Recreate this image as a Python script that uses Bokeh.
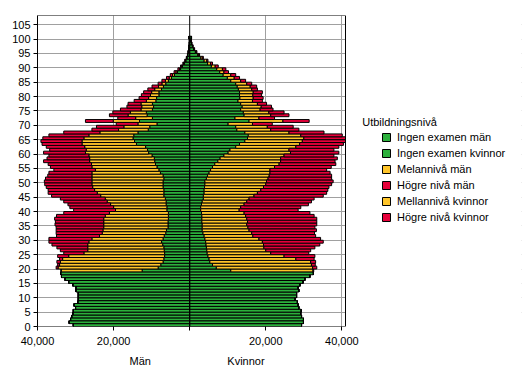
from bokeh.plotting import figure
from bokeh.models import (ColumnDataSource, FixedTicker, LinearAxis, Legend,
                          LegendItem, Span, Range1d, BoxAnnotation, Label)
from bokeh.embed import file_html
from bokeh.resources import INLINE

# ---------------- data ----------------
ages = list(range(0, 101))
age_ticks = list(range(0, 106, 5))
x_ticks = [-40000, -20000, 0, 20000, 40000]
x_tick_labels = ["40,000", "20,000", "", "20,000", "40,000"]
side_labels = ["Män", "Kvinnor"]
legend_title = "Utbildningsnivå"
series_names = ["Ingen examen män", "Ingen examen kvinnor", "Melannivå män",
                "Högre nivå män", "Mellannivå kvinnor", "Högre nivå kvinnor"]

men_ingen = [30600, 31700, 31300, 31000, 30700, 30600, 30000, 30400, 29400, 29300,
             29300, 29300, 29900, 29900, 30700, 31800, 32800, 33700, 33900,
             12500, 8300, 7600, 7000, 6800, 6600, 6600, 6700, 6800, 7100,
             7400, 7000, 6700, 6300, 6100, 5700, 5700, 5700, 5600, 5600,
             5600, 6000, 6000, 6200, 6200, 6400, 6800, 6800, 6800, 7000,
             7000, 7000, 6800, 7000, 7700, 8100, 8600, 9000, 9200, 9300,
             9900, 10800, 11100, 11600, 14000, 14500, 14900, 14700, 13600, 10900,
             10500, 8600, 13200, 9800, 11200, 11400, 9800, 9500, 9800, 8900,
             8700, 8100, 8100, 7400, 6900, 6300, 5600, 4800, 4000, 3200,
             2400, 1900, 1400, 1000, 700, 500, 350, 250, 170, 100, 70, 200]
men_mellan = [0] * 19 + [
             21300, 26300, 26600, 27000, 26600, 25200, 21200, 20100, 20000, 19700,
             19100, 18700, 17000, 16700, 16700, 16900, 16900, 16900, 17000, 16600,
             15500, 13500, 14000, 14600, 15500, 15800, 16600, 17500, 18200, 18500,
             18700, 18700, 18900, 18700, 18000, 16700, 17100, 16800, 17100, 17000,
             16600, 16600, 16100, 16000, 14300, 13800, 12900, 11800, 10000, 7800,
             6800, 5000, 6900, 4400, 5000, 4200, 3000, 3100, 3000, 2500,
             2100, 2200, 1900, 1800, 1300, 1000, 800, 600, 500, 400,
             300, 200, 200, 150, 100, 50, 50, 30, 20, 10, 10, 20]
men_hogre = [0] * 19 + [
             0, 500, 500, 900, 800, 2900, 5300, 7200, 8100, 9400,
             10500, 11300, 11300, 12100, 12300, 12500, 12800, 12700, 12900, 12800,
             12000, 11000, 11500, 11200, 11400, 11800, 12900, 12900, 12200, 12200,
             12400, 12500, 12200, 11600, 11300, 10900, 10900, 11400, 12100, 11200,
             10500, 11000, 9600, 10100, 10500, 10800, 10800, 10500, 9500, 7000,
             7200, 5700, 7300, 4700, 4900, 4600, 5400, 3900, 3400, 3200,
             2500, 2400, 2100, 1800, 1700, 1000, 900, 700, 600, 500,
             400, 300, 200, 150, 100, 50, 50, 20, 10, 10, 10, 20]

women_ingen = [29400, 29900, 29900, 29400, 29200, 29300, 28700, 28500, 28300, 27700,
               28100, 28100, 28700, 28500, 29000, 29800, 30300, 31600, 32500,
               10800, 7000, 6000, 5300, 5100, 4800, 4600, 4500, 4400, 4300,
               4200, 4000, 3800, 3500, 3300, 3300, 3300, 3200, 3200, 3200,
               3100, 2900, 2900, 3100, 3300, 3600, 3600, 3800, 3800, 3900,
               4000, 4000, 4400, 4700, 5100, 5500, 6000, 6600, 7400, 8000,
               9000, 10100, 10600, 12100, 13100, 14500, 15200, 15400, 14500, 12400,
               12100, 10100, 15600, 11900, 14300, 14100, 13400, 13800, 13400, 12700,
               13200, 13100, 13100, 12800, 12500, 12100, 10800, 9900, 8800, 7900,
               7100, 5700, 4700, 3800, 2900, 2100, 1500, 1000, 700, 450, 300, 400]
women_mellan = [0] * 19 + [
               21600, 25300, 26000, 26500, 22800, 20000, 16700, 15500, 15100, 15100,
               14900, 14200, 12800, 12800, 12300, 12000, 11700, 12000, 11800, 11500,
               11200, 10100, 10500, 11200, 11700, 12000, 13300, 14000, 14900, 15500,
               16000, 16200, 16200, 16200, 16000, 15600, 16300, 16900, 16500, 15900,
               15800, 16400, 15500, 15800, 15800, 15100, 14800, 13800, 11600, 8900,
               8300, 6400, 8900, 6300, 7000, 6700, 5100, 5000, 4400, 3800,
               3500, 3500, 3600, 3500, 3400, 2900, 2600, 1800, 2000, 1100,
               1500, 1000, 800, 700, 400, 300, 200, 150, 100, 70, 50, 50]
women_hogre = [0] * 19 + [
               200, 1100, 1000, 1300, 4800, 8100, 10000, 11800, 13400, 14800,
               16000, 16200, 16500, 16500, 17700, 17600, 18400, 18200, 18400, 18000,
               17300, 15500, 15800, 16900, 17000, 17100, 18200, 18200, 17600, 17200,
               17300, 17500, 16700, 16400, 15800, 14900, 14900, 14900, 14300, 14900,
               13100, 12700, 11800, 11300, 11500, 11400, 11000, 10900, 9200, 7400,
               6800, 5200, 6900, 4100, 4800, 4000, 3400, 2700, 2400, 2600,
               2600, 2300, 2400, 1500, 1700, 1300, 1300, 1400, 1300, 1200,
               900, 800, 500, 300, 300, 200, 200, 150, 100, 80, 50, 50]

# ---------------- styling / layout ----------------
GREEN = "#2CB03C"
ORANGE = "#FFC52A"
RED = "#E6003A"
GRID = "#A0A0A0"
FONT = "Liberation Sans"

X_MIN, X_MAX = -40000, 40950      # visible pyramid area
Y_MAX = 108.2
FRAME_W_PLOT = 308                # pixel width of the pyramid box
FRAME_W = 484                     # frame incl. legend area
x_end = X_MIN + (X_MAX - X_MIN) * FRAME_W / FRAME_W_PLOT

src = ColumnDataSource(dict(
    y=[a + 0.5 for a in ages],
    m_ing=[-v for v in men_ingen],
    m_mel=[-v for v in men_mellan],
    m_hog=[-v for v in men_hogre],
    w_ing=women_ingen,
    w_mel=women_mellan,
    w_hog=women_hogre,
))

p = figure(width=37 + FRAME_W + 4, height=374,
           x_range=Range1d(X_MIN, x_end), y_range=Range1d(0, Y_MAX),
           output_backend="svg", toolbar_location=None,
           min_border_left=37, min_border_right=4,
           min_border_top=15, min_border_bottom=48)

men_r = p.hbar_stack(["m_ing", "m_mel", "m_hog"], y="y", height=1, source=src,
                     fill_color=[GREEN, ORANGE, RED], line_color="black", line_width=1)
women_r = p.hbar_stack(["w_ing", "w_mel", "w_hog"], y="y", height=1, source=src,
                       fill_color=[GREEN, ORANGE, RED], line_color="black", line_width=1)

p.add_layout(Span(location=0, dimension="height", line_color="black", line_width=1))

# white cover for the legend area, and the black box round the pyramid
p.add_layout(BoxAnnotation(left=X_MAX, fill_color="white", fill_alpha=1,
                           line_color=None, line_alpha=0))
p.add_layout(BoxAnnotation(left=X_MIN, right=X_MAX, bottom=0, top=Y_MAX,
                           fill_alpha=0, line_color="black", line_width=1, line_alpha=1))

# axes
p.xaxis.ticker = FixedTicker(ticks=x_ticks)
p.xaxis.major_label_overrides = {t: l for t, l in zip(x_ticks, x_tick_labels)}
p.yaxis.ticker = FixedTicker(ticks=age_ticks)
for ax in (p.xaxis, p.yaxis):
    ax.minor_tick_line_color = None
    ax.major_tick_in = 0
    ax.major_tick_out = 4
    ax.axis_line_color = "black"
    ax.major_tick_line_color = "black"
    ax.major_label_text_font = FONT
    ax.major_label_text_font_size = "11px"
    ax.major_label_text_color = "black"
p.xaxis.axis_line_color = None
p.xaxis.major_label_standoff = 6
p.yaxis.major_label_standoff = 3

side_ax = LinearAxis(ticker=FixedTicker(ticks=[-13000, 14800]),
                     major_label_overrides={-13000: side_labels[0], 14800: side_labels[1]},
                     axis_line_color=None, major_tick_line_color=None,
                     minor_tick_line_color=None, major_tick_in=0, major_tick_out=0,
                     major_label_standoff=7, major_label_text_font=FONT,
                     major_label_text_font_size="11px", major_label_text_color="black")
p.add_layout(side_ax, "below")

# grid
p.xgrid.ticker = FixedTicker(ticks=[-20000, 20000, 40000])
p.ygrid.ticker = FixedTicker(ticks=age_ticks[1:])
p.xgrid.grid_line_color = GRID
p.ygrid.grid_line_color = GRID
p.xgrid.grid_line_width = 1
p.ygrid.grid_line_width = 1

p.outline_line_color = None
p.background_fill_color = "white"
p.border_fill_color = "white"

# legend
renderers = [men_r[0], women_r[0], men_r[1], men_r[2], women_r[1], women_r[2]]
legend = Legend(items=[LegendItem(label=n, renderers=[r]) for n, r in zip(series_names, renderers)],
                location=(344, 103), padding=0, margin=0, spacing=4,
                glyph_width=10, glyph_height=10, label_height=12, label_standoff=6,
                label_text_font=FONT, label_text_font_size="11px", label_text_color="black",
                border_line_color=None, background_fill_alpha=0)
p.add_layout(legend)
p.add_layout(Label(x=45340, y=71.0, text=legend_title, text_baseline="middle",
                   text_font=FONT, text_font_size="11px", text_color="black"))

open("out.html", "w").write(file_html(p, INLINE))
